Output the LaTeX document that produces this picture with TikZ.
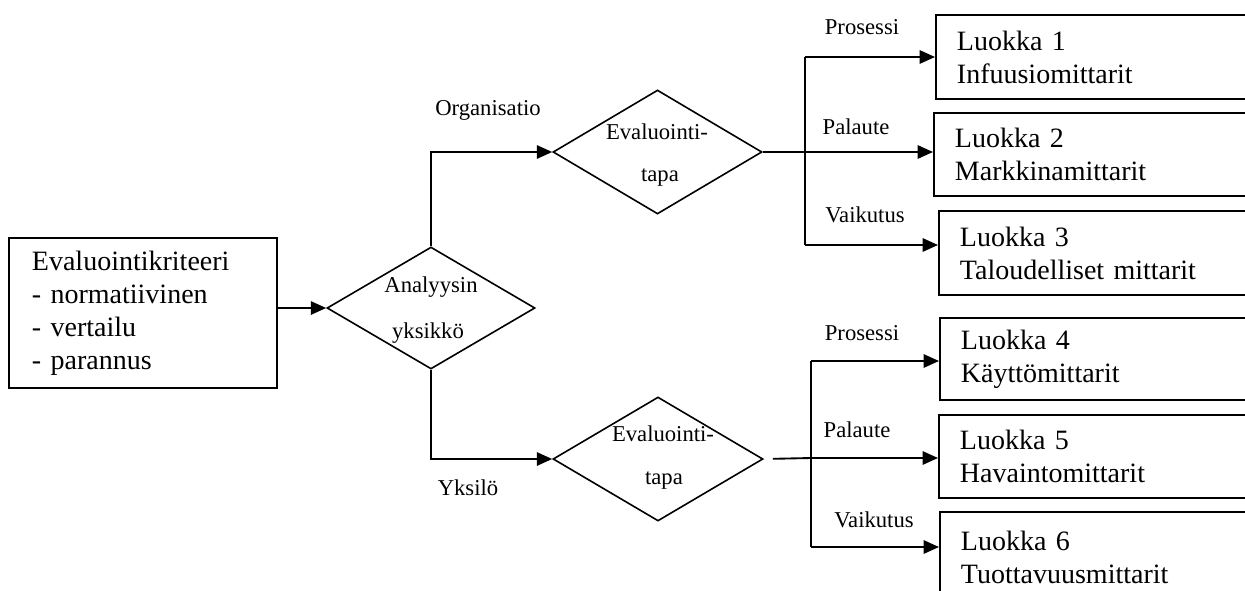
\documentclass[tikz,border=0pt]{standalone}
\usepackage{fontspec}
\setmainfont{Liberation Serif}
\usetikzlibrary{arrows.meta,shapes.geometric}
\newlength\pxu
\setlength\pxu{0.75pt}
\tikzset{
  conn/.style={line width=1.4pt},
  arr/.style={conn,-{Triangle[length=11.5pt,width=10pt]}},
  bigtxt/.style={font=\fontsize{21}{24.75}\selectfont},
  smalltxt/.style={font=\fontsize{17}{18}\selectfont},
  classbox/.style={draw,conn,rectangle,anchor=north west,minimum width=330\pxu,
    text width=288\pxu,inner xsep=21\pxu,inner ysep=0pt,align=left,bigtxt},
  critbox/.style={draw,conn,rectangle,anchor=north west,minimum width=268\pxu,
    minimum height=150\pxu,text width=222\pxu,inner xsep=23\pxu,align=left,bigtxt},
  dia/.style={draw,line width=1.2pt,diamond,inner sep=0pt},
  lbl/.style={smalltxt,inner sep=1pt},
}
\begin{document}
\begin{tikzpicture}[x=0.75pt,y=-0.75pt]
\useasboundingbox (0,0) rectangle (1245,590);

% criteria box
\node[critbox] (crit) at (8,237) {Evaluointikriteeri\\- normatiivinen\\- vertailu\\- parannus};

% diamonds
\node[dia,minimum width=208\pxu,minimum height=122\pxu] (d1) at (431,308) {};
\node[lbl] (d1a) at (431,287) {Analyysin};
\node[lbl] (d1b) at (428,333) {yksikkö};

\node[dia,minimum width=209\pxu,minimum height=124\pxu] (d2) at (657.5,152) {};
\node[lbl] (d2a) at (657,132) {Evaluointi-};
\node[lbl] (d2b) at (660,178) {tapa};

\node[dia,minimum width=210\pxu,minimum height=124\pxu] (d3) at (658,459) {};
\node[lbl] (d3a) at (663,434) {Evaluointi-};
\node[lbl] (d3b) at (664,481) {tapa};

% class boxes
\node[classbox,minimum height=84\pxu] (b1) at (935,14) {Luokka 1\\Infuusiomittarit};
\node[classbox,minimum height=83\pxu] (b2) at (933,112) {Luokka 2\\Markkinamittarit};
\node[classbox,minimum height=84\pxu] (b3) at (938,210) {Luokka 3\\Taloudelliset mittarit};
\node[classbox,minimum height=82\pxu] (b4) at (939,317) {Luokka 4\\Käyttömittarit};
\node[classbox,minimum height=83\pxu] (b5) at (938,414) {Luokka 5\\Havaintomittarit};
\node[classbox,minimum height=90\pxu] (b6) at (939,511) {Luokka 6\\Tuottavuusmittarit};

% labels
\node[lbl] (lorg) at (488,110) {Organisatio};
\node[lbl] (lyks) at (468,488) {Yksilö};
\node[lbl] (lp1) at (862,27) {Prosessi};
\node[lbl] (lf1) at (856,127) {Palaute};
\node[lbl] (lv1) at (865,215) {Vaikutus};
\node[lbl] (lp2) at (862,333) {Prosessi};
\node[lbl] (lf2) at (857,430) {Palaute};
\node[lbl] (lv2) at (874,520) {Vaikutus};

% junction coordinates
\coordinate (ja) at (805,57);
\coordinate (jm) at (805,152);
\coordinate (jb) at (805,245);
\coordinate (ka) at (811,361);
\coordinate (km) at (811,458);
\coordinate (kb) at (811,547);

% connectors
\draw[arr] (crit.east |- d1.west) -- (d1.west);
\draw[arr] (d1.north) |- (d2.west);
\draw[arr] (d1.south) |- (d3.west);

\draw[conn] (d2.east) -- (jm);
\draw[conn] (ja) -- (jb);
\draw[arr] (ja) -- (ja -| b1.west);
\draw[arr] (jm) -- (jm -| b2.west);
\draw[arr] (jb) -- (jb -| b3.west);

\draw[conn,shorten <=6.75pt] (d3.east) -- (km);
\draw[conn] (ka) -- (kb);
\draw[arr] (ka) -- (ka -| b4.west);
\draw[arr] (km) -- (km -| b5.west);
\draw[arr] (kb) -- (kb -| b6.west);
\end{tikzpicture}
\end{document}
